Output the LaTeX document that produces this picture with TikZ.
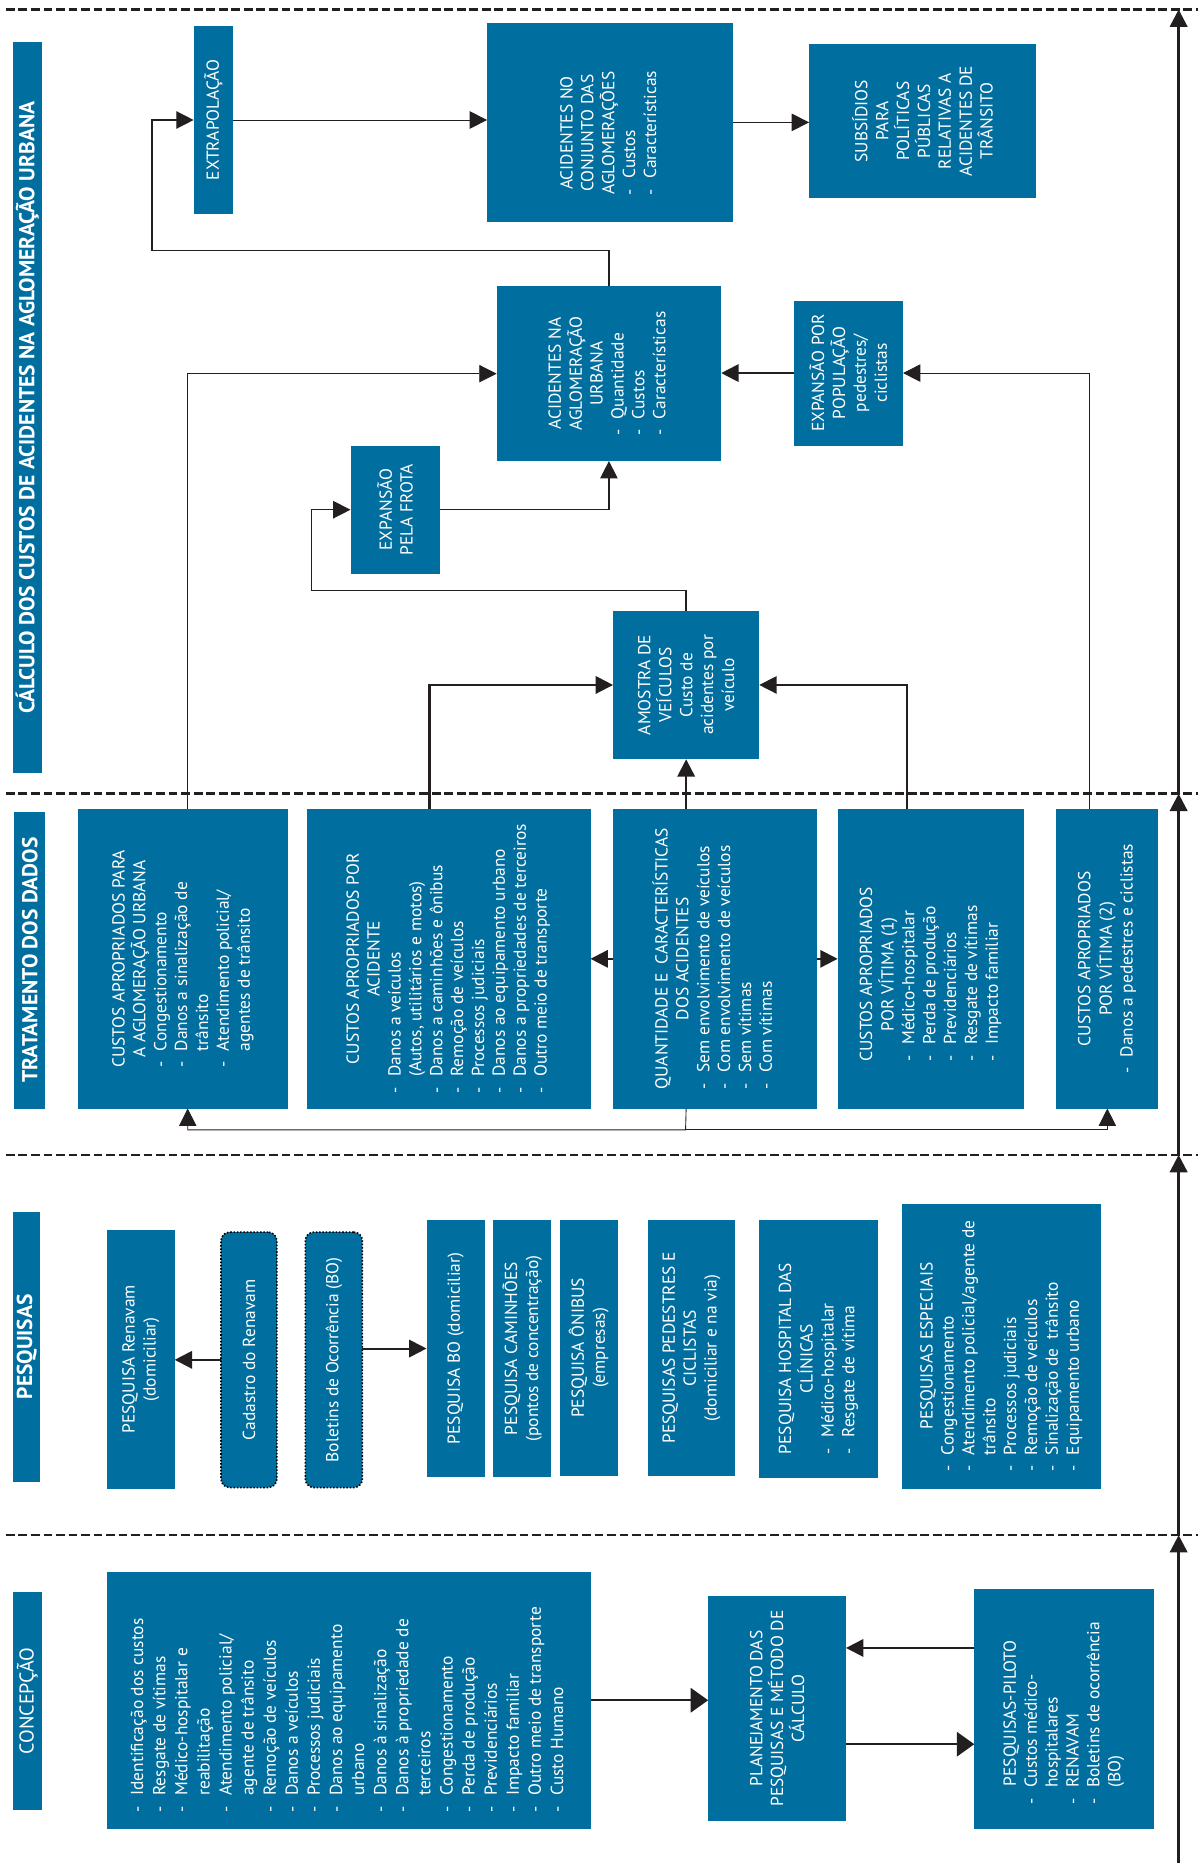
\documentclass[tikz,border=0pt]{standalone}
\usepackage{fontspec}
\setmainfont{PT Sans}
\usetikzlibrary{arrows.meta,fit,calc}
\definecolor{ipeablue}{RGB}{0,110,158}
\definecolor{ink}{RGB}{35,31,32}
\newcommand{\boxhead}[1]{\multicolumn{2}{@{}c@{}}{#1}}

\begin{document}
\begin{tikzpicture}[x=0.024cm, y=-0.024cm,
    box/.style={fill=ipeablue, inner sep=0pt, outer sep=0pt, fit={#1}},
    dotbox/.style={box={#1}, draw=black, densely dotted, line width=0.9pt, rounded corners=5pt},
    txt/.style={rotate=90, text=white, inner sep=0pt, align=center, font=\fontsize{10}{12}\selectfont},
    bartxt/.style={rotate=90, text=white, inner sep=0pt, font=\fontsize{12.4}{14}\selectfont\bfseries},
    arr/.style={draw=ink, line width=0.8pt, -{Triangle[length=10pt,width=10pt]}},
    arrt/.style={arr, line width=0.5pt},
    arrb/.style={arr, line width=1.2pt},
    arrbig/.style={draw=ink, line width=1.2pt, -{Triangle[length=10pt,width=14pt]}},
    sep/.style={draw=ink, line width=1.4pt, dash pattern=on 5pt off 2.2pt},
    mainarr/.style={draw=ink, line width=1.6pt, -{Triangle[length=10pt,width=10pt]}}]

  \useasboundingbox (0,0) rectangle (1010,1568);

  % separators
  \draw[sep] (5,8) -- (1008,8);
  \draw[sep] (5,668) -- (1008,668);
  \draw[sep] (5,972) -- (1008,972);
  \draw[sep] (5,1292) -- (1008,1292);

  % side bars
  \node[box={(11,35) (35,651)}] (calcbar) {};
  \node[bartxt] (calcbarT) at (calcbar) {CÁLCULO DOS CUSTOS DE ACIDENTES NA AGLOMERAÇÃO URBANA};
  \node[box={(12,683) (38,933)}] (tratbar) {};
  \node[bartxt] (tratbarT) at (tratbar) {TRATAMENTO DOS DADOS};
  \node[box={(11,1020) (34,1247)}] (pesqbar) {};
  \node[bartxt] (pesqbarT) at (pesqbar) {PESQUISAS};
  \node[box={(11,1340) (35,1523)}] (concbar) {};
  \node[bartxt, font=\fontsize{11.5}{13}\selectfont] (concbarT) at (concbar) {CONCEPÇÃO};

  % calculo
  \node[box={(163,22) (196,180)}] (extrap) {};
  \node[txt] (extrapT) at (extrap) {EXTRAPOLAÇÃO};
  \node[box={(410,19) (617,187)}] (acidno) {};
  \node[txt] (acidnoT) at ($(acidno)+(0,9)$) {\begin{tabular}{@{}l@{\hspace{6pt}}l@{}}
    \boxhead{ACIDENTES NO}\\ \boxhead{CONJUNTO DAS}\\ \boxhead{AGLOMERAÇÕES}\\
    - & Custos\\ - & Características\end{tabular}};
  \node[box={(681,37) (872,167)}] (subs) {};
  \node[txt] (subsT) at (subs) {SUBSÍDIOS\\PARA\\POLÍTICAS\\PÚBLICAS\\RELATIVAS A\\ACIDENTES DE\\TRÂNSITO};
  \node[box={(418,241) (607,388)}] (acidna) {};
  \node[txt] (acidnaT) at (acidna) {\begin{tabular}{@{}l@{\hspace{6pt}}l@{}}
    \boxhead{ACIDENTES NA}\\ \boxhead{AGLOMERAÇÃO}\\ \boxhead{URBANA}\\
    - & Quantidade\\ - & Custos\\ - & Características\end{tabular}};
  \node[box={(668,253) (760,375)}] (exppop) {};
  \node[txt] (exppopT) at (exppop) {EXPANSÃO POR\\POPULAÇÃO\\pedestres/\\ciclistas};
  \node[box={(295,375) (370,483)}] (expfrota) {};
  \node[txt] (expfrotaT) at (expfrota) {EXPANSÃO\\PELA FROTA};
  \node[box={(516,514) (639,639)}] (amostra) {};
  \node[txt] (amostraT) at (amostra) {AMOSTRA DE\\VEÍCULOS\\Custo de\\acidentes por\\veículo};

  % tratamento
  \node[box={(66,681) (242,933)}] (cpara) {};
  \node[txt] (cparaT) at (cpara) {\begin{tabular}{@{}l@{\hspace{6pt}}l@{}}
    \boxhead{CUSTOS APROPRIADOS PARA}\\ \boxhead{A AGLOMERAÇÃO URBANA}\\
    - & Congestionamento\\ - & Danos a sinalização de\\ & trânsito\\
    - & Atendimento policial/\\ & agentes de trânsito\end{tabular}};
  \node[box={(258,681) (497,933)}] (cacid) {};
  \node[txt] (cacidT) at (cacid) {\begin{tabular}{@{}l@{\hspace{6pt}}l@{}}
    \boxhead{CUSTOS APROPRIADOS POR}\\ \boxhead{ACIDENTE}\\
    - & Danos a veículos\\ & (Autos, utilitários e motos)\\
    - & Danos a caminhões e ônibus\\ - & Remoção de veículos\\
    - & Processos judiciais\\ - & Danos ao equipamento urbano\\
    - & Danos a propriedades de terceiros\\ - & Outro meio de transporte\end{tabular}};
  \node[box={(516,681) (688,933)}] (quant) {};
  \node[txt] (quantT) at (quant) {\begin{tabular}{@{}l@{\hspace{6pt}}l@{}}
    \boxhead{QUANTIDADE E\ \ CARACTERÍSTICAS}\\ \boxhead{DOS ACIDENTES}\\
    - & Sem envolvimento de veículos\\ - & Com envolvimento de veículos\\
    - & Sem vítimas\\ - & Com vítimas\end{tabular}};
  \node[box={(705,681) (862,933)}] (cvit1) {};
  \node[txt] (cvit1T) at ($(cvit1)+(0,13)$) {\begin{tabular}{@{}l@{\hspace{6pt}}l@{}}
    \boxhead{CUSTOS APROPRIADOS}\\ \boxhead{POR VÍTIMA (1)}\\
    - & Médico-hospitalar\\ - & Perda de produção\\ - & Previdenciários\\
    - & Resgate de vítimas\\ - & Impacto familiar\end{tabular}};
  \node[box={(889,681) (975,933)}] (cvit2) {};
  \node[txt] (cvit2T) at (cvit2) {\begin{tabular}{@{}l@{\hspace{6pt}}l@{}}
    \boxhead{CUSTOS APROPRIADOS}\\ \boxhead{POR VÍTIMA (2)}\\
    - & Danos a pedestres e ciclistas\end{tabular}};

  % pesquisas
  \node[box={(90,1035) (147,1253)}] (prenavam) {};
  \node[txt] (prenavamT) at (prenavam) {PESQUISA Renavam\\(domiciliar)};
  \node[dotbox={(186,1037) (233,1252)}] (cadastro) {};
  \node[txt] (cadastroT) at (cadastro) {Cadastro do Renavam};
  \node[dotbox={(257,1037) (305,1252)}] (boletins) {};
  \node[txt] (boletinsT) at (boletins) {Boletins de Ocorrência (BO)};
  \node[box={(359,1027) (408,1243)}] (pbo) {};
  \node[txt] (pboT) at (pbo) {PESQUISA BO (domiciliar)};
  \node[box={(415,1027) (464,1243)}] (pcam) {};
  \node[txt] (pcamT) at (pcam) {PESQUISA CAMINHÕES\\(pontos de concentração)};
  \node[box={(471,1027) (520,1242)}] (ponibus) {};
  \node[txt] (ponibusT) at (ponibus) {PESQUISA ÔNIBUS\\(empresas)};
  \node[box={(545,1027) (619,1242)}] (pped) {};
  \node[txt] (ppedT) at (pped) {PESQUISAS PEDESTRES E\\CICLISTAS\\(domiciliar e na via)};
  \node[box={(639,1027) (739,1244)}] (phosp) {};
  \node[txt] (phospT) at ($(phosp)+(0,8)$) {\begin{tabular}{@{}l@{\hspace{6pt}}l@{}}
    \boxhead{PESQUISA HOSPITAL DAS}\\ \boxhead{CLÍNICAS}\\
    - & Médico-hospitalar\\ - & Resgate de vítima\end{tabular}};
  \node[box={(759,1013) (927,1253)}] (pesp) {};
  \node[txt] (pespT) at (pesp) {\begin{tabular}{@{}l@{\hspace{6pt}}l@{}}
    \boxhead{PESQUISAS ESPECIAIS}\\
    - & Congestionamento\\ - & Atendimento policial/agente de\\ & trânsito\\
    - & Processos judiciais\\ - & Remoção de veículos\\
    - & Sinalização de\ \ trânsito\\ - & Equipamento urbano\end{tabular}};

  % concepcao
  \node[box={(90,1323) (497,1539)}] (ident) {};
  \node[txt, font=\fontsize{10}{12.7}\selectfont] (identT) at ($(ident)+(0,8)$) {\begin{tabular}{@{}l@{\hspace{6pt}}l@{}}
    - & Identificação dos custos\\ - & Resgate de vítimas\\
    - & Médico-hospitalar e\\ & reabilitação\\
    - & Atendimento policial/\\ & agente de trânsito\\
    - & Remoção de veículos\\ - & Danos a veículos\\ - & Processos judiciais\\
    - & Danos ao equipamento\\ & urbano\\ - & Danos à sinalização\\
    - & Danos à propriedade de\\ & terceiros\\ - & Congestionamento\\
    - & Perda de produção\\ - & Previdenciários\\ - & Impacto familiar\\
    - & Outro meio de transporte\\ - & Custo Humano\end{tabular}};
  \node[box={(596,1343) (712,1533)}] (plan) {};
  \node[txt] (planT) at (plan) {PLANEJAMENTO DAS\\PESQUISAS E MÉTODO DE\\CÁLCULO};
  \node[box={(820,1337) (971,1539)}] (piloto) {};
  \node[txt] (pilotoT) at ($(piloto)+(0,4)$) {\begin{tabular}{@{}l@{\hspace{6pt}}l@{}}
    \boxhead{PESQUISAS-PILOTO}\\
    - & Custos médico-\\ & hospitalares\\ - & RENAVAM\\
    - & Boletins de ocorrência\\ & (BO)\end{tabular}};

  % main flow on the right
  \coordinate (m0) at (992,1568);
  \coordinate (m1) at (992,1292);
  \coordinate (m2) at (992,972);
  \coordinate (m3) at (992,668);
  \coordinate (m4) at (992,8);
  \draw[mainarr] (m0) -- (m1);
  \draw[mainarr] (m1) -- (m2);
  \draw[mainarr] (m2) -- (m3);
  \draw[mainarr] (m3) -- (m4);

  % connectors, calculo
  \draw[arrt] (extrap.east) -- (extrap.east -| acidno.west);
  \draw[arrt] (acidno.east) -- (acidno.east -| subs.west);
  \coordinate (loopA) at (128,211);
  \draw[arr] (acidna.north) |- (loopA) |- (extrap.west);
  \draw[arrt] ($(cpara.north)+(4,0)$) |- (acidna.west);
  \draw[arrb] (exppop.west) -- (exppop.west -| acidna.east);
  \draw[arrt] ($(cvit2.north)+(-15,0)$) |- (exppop.east);
  \draw[arr] (expfrota.east) -| (acidna.south);
  \coordinate (loopB) at (262,497);
  \draw[arr] (amostra.north) |- (loopB) |- (expfrota.west);
  \draw[arrb] ($(cacid.north)+(-16,0)$) |- (amostra.west);
  \draw[arrb] (amostra.south |- quant.north) -- (amostra.south);
  \draw[arr] ($(cvit1.north)+(-20,0)$) |- (amostra.east);

  % connectors, tratamento
  \draw[arrb] (quant.west) -- (cacid.east);
  \draw[arrb] (quant.east) -- (cvit1.west);
  \coordinate (fbk) at (577,951);
  \draw[arrt] (amostra.south |- quant.south) -- (fbk) -| ($(cpara.south)+(4,0)$);
  \draw[arrt] (fbk) -| (cvit2.south);

  % connectors, pesquisas
  \draw[arrb] (cadastro.west) -- (cadastro.west -| prenavam.east);
  \draw[arrb] (boletins.east |- pbo.west) -- (pbo.west);

  % connectors, concepcao
  \draw[arrbig] (ident.east) -- (ident.east -| plan.west);
  \coordinate (pilA) at ($(piloto.west)+(0,-51)$);
  \draw[arrb] (pilA) -- (pilA -| plan.east);
  \coordinate (planB) at ($(plan.east)+(0,30)$);
  \draw[arrbig] (planB) -- (planB -| piloto.west);

\end{tikzpicture}
\end{document}
